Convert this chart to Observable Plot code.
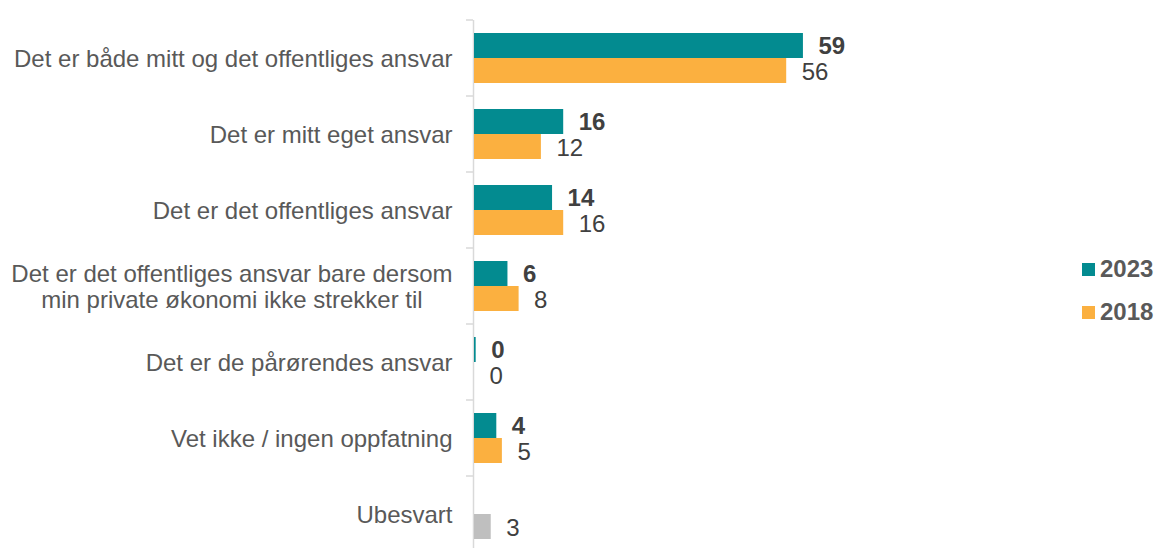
<!DOCTYPE html>
<html><head><meta charset="utf-8">
<script src="https://cdn.jsdelivr.net/npm/d3@7"></script>
<script src="https://cdn.jsdelivr.net/npm/@observablehq/plot@0.6"></script>
<style>
html,body{margin:0;padding:0;background:#fff;overflow:hidden;}
#wrap{position:relative;width:1155px;height:548px;overflow:hidden;font-family:"Liberation Sans",Arial,sans-serif;}
.leg{position:absolute;left:1082px;height:26px;display:flex;align-items:center;font-weight:bold;font-size:24px;color:#595959;}
.sw{width:13px;height:13px;margin-right:5px;}
</style></head><body><div id="wrap"></div>
<script>
const categories = [
  "Det er både mitt og det offentliges ansvar",
  "Det er mitt eget ansvar",
  "Det er det offentliges ansvar",
  "Det er det offentliges ansvar bare dersom\nmin private økonomi ikke strekker til",
  "Det er de pårørendes ansvar",
  "Vet ikke / ingen oppfatning",
  "Ubesvart"
];
const seriesNames = ["2023", "2018"];
const values2023 = [59, 16, 14, 6, 0.3, 4, null];
const values2018 = [56, 12, 16, 8, 0, 5, 3];

const colorDomain = ["2023", "2018", "Ubesvart"];
const colorRange = ["#038b90", "#fbb040", "#bfbfbf"];

const rows = [];
categories.forEach((c, i) => {
  if (values2023[i] != null) rows.push({cat: c, series: "2023", value: values2023[i]});
  if (values2018[i] != null) rows.push({cat: c, series: "2018", value: values2018[i]});
});
const fmt = d3.format(".0f");
const font = '"Liberation Sans", Arial, sans-serif';

const chart = Plot.plot({
  width: 1155,
  height: 555,
  marginLeft: 474,
  marginRight: 12,
  marginTop: 17,
  marginBottom: 0,
  style: {fontFamily: font, background: "#fff"},
  x: {domain: [0, 120], axis: null},
  fy: {domain: categories, padding: 0, axis: null},
  y: {domain: seriesNames, paddingInner: 0, paddingOuter: 0.5, axis: null},
  color: {domain: colorDomain, range: colorRange},
  marks: [
    Plot.ruleX([0], {stroke: "#d9d9d9", strokeWidth: 1.5, dx: -1}),
    Plot.barX(rows, {fy: "cat", y: "series", x: "value",
      fill: d => d.cat === "Ubesvart" ? "Ubesvart" : d.series}),
    Plot.text(rows.filter(d => d.series === "2023"), {fy: "cat", y: "series", x: "value",
      text: d => fmt(d.value), textAnchor: "start", dx: 15, dy: 0, fontSize: 24, fontWeight: "bold", fill: "#404040"}),
    Plot.text(rows.filter(d => d.series === "2018"), {fy: "cat", y: "series", x: "value",
      text: d => fmt(d.value), textAnchor: "start", dx: 15, dy: 1, fontSize: 24, fill: "#404040"}),
    Plot.text(categories, {fy: d => d, x: 0, text: d => d, textAnchor: "end", dx: -22,
      fontSize: 24, lineHeight: 1.08, fill: "#595959"})
  ]
});
const wrap = document.getElementById("wrap");
wrap.appendChild(chart);

// axis ticks at category band boundaries
const svg = d3.select(chart.tagName === "svg" ? chart : chart.querySelector("svg"));
const fy = chart.scale("fy");
const x0 = chart.scale("x").apply(0) - 1;
const bounds = categories.map(c => fy.apply(c)).concat([fy.apply(categories[categories.length - 1]) + fy.step]);
svg.append("g").selectAll("line").data(bounds).join("line")
  .attr("x1", x0 - 7).attr("x2", x0).attr("y1", d => d).attr("y2", d => d)
  .attr("stroke", "#d9d9d9").attr("stroke-width", 1.5);

// center the lines of multi-line category labels
svg.selectAll("text").each(function () {
  const ts = this.querySelectorAll("tspan");
  if (ts.length > 1) {
    let w = 0;
    ts.forEach(t => { w = Math.max(w, t.getComputedTextLength()); });
    this.setAttribute("text-anchor", "middle");
    ts.forEach(t => t.setAttribute("x", -w / 2));
  }
});

// legend
seriesNames.forEach((s, i) => {
  const d = document.createElement("div");
  d.className = "leg";
  d.style.top = (256 + i * 43) + "px";
  d.innerHTML = `<span class="sw" style="background:${colorRange[i]}"></span><span>${s}</span>`;
  wrap.appendChild(d);
});
</script>
</body></html>
